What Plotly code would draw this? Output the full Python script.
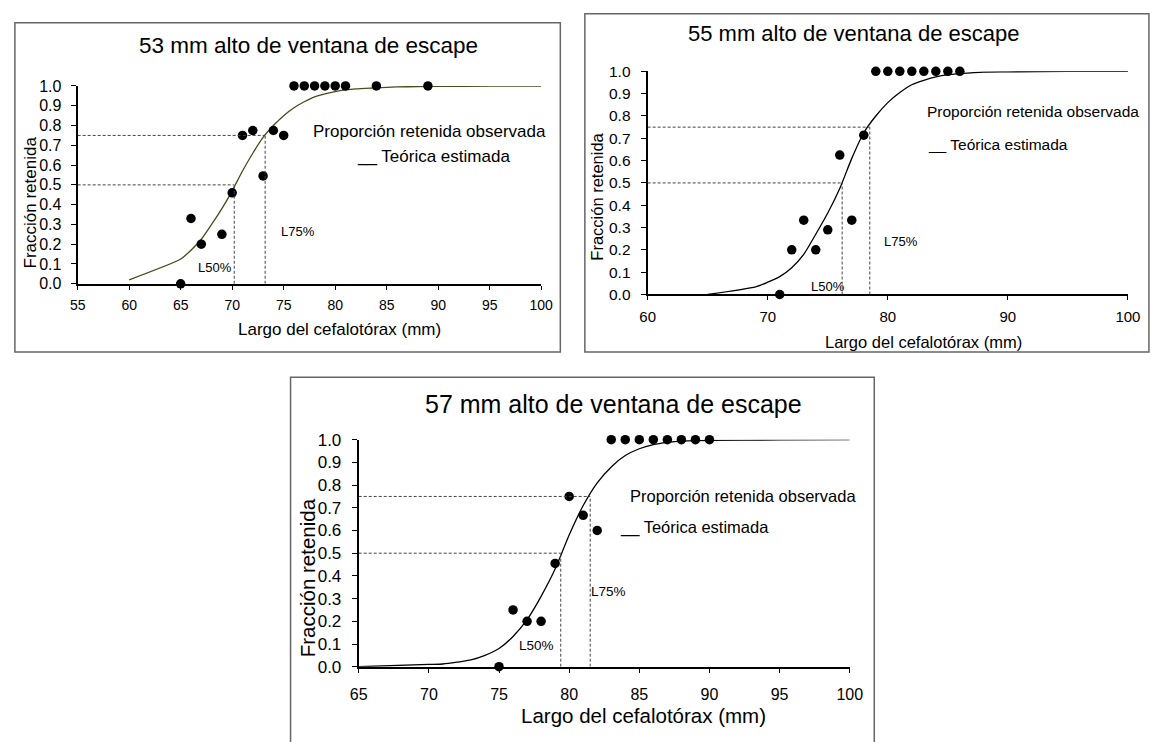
import plotly.graph_objects as go

W, H = 1159, 742

# ---------------- data ----------------
# Chart 1: 53 mm
obs1_x = [65, 66, 67, 69, 70, 71, 72, 73, 74, 75, 76, 77, 78, 79, 80, 81, 84, 89]
obs1_y = [0.0, 0.33, 0.2, 0.25, 0.46, 0.75, 0.775, 0.545, 0.775, 0.75, 1, 1, 1, 1, 1, 1, 1, 1]
fit1_x = [60, 65, 66, 67, 68, 69, 70, 71, 72, 73, 74, 75, 76, 77, 78, 79, 80, 81, 82, 84, 86, 88, 90, 95, 100]
fit1_y = [0.02, 0.125, 0.17, 0.225, 0.30, 0.38, 0.47, 0.57, 0.66, 0.74, 0.80, 0.85, 0.89, 0.92, 0.945,
          0.96, 0.972, 0.98, 0.985, 0.99, 0.995, 0.997, 0.998, 0.999, 1.0]
L50_1, L75_1 = 70.2, 73.2

# Chart 2: 55 mm
obs2_x = [71, 72, 73, 74, 75, 76, 77, 78, 79, 80, 81, 82, 83, 84, 85, 86]
obs2_y = [0.0, 0.2, 0.333, 0.2, 0.29, 0.625, 0.333, 0.714, 1, 1, 1, 1, 1, 1, 1, 1]
fit2_x = [65, 69, 70, 71, 72, 73, 74, 75, 76, 77, 78, 79, 80, 81, 82, 83, 84, 85, 86, 88, 90, 95, 100]
fit2_y = [0.0, 0.034, 0.055, 0.08, 0.12, 0.18, 0.27, 0.365, 0.475, 0.61, 0.725, 0.80, 0.86, 0.905, 0.94,
          0.96, 0.975, 0.985, 0.99, 0.997, 0.998, 1.0, 1.0]
L50_2, L75_2 = 76.2, 78.5

# Chart 3: 57 mm
obs3_x = [75, 76, 77, 78, 79, 80, 81, 82, 83, 84, 85, 86, 87, 88, 89, 90]
obs3_y = [0.0, 0.25, 0.2, 0.2, 0.455, 0.75, 0.667, 0.6, 1, 1, 1, 1, 1, 1, 1, 1]
fit3_x = [65, 70, 71, 72, 73, 74, 75, 76, 77, 78, 79, 80, 81, 82, 83, 84, 85, 86, 87, 88, 90, 95, 100]
fit3_y = [0.0, 0.01, 0.012, 0.02, 0.03, 0.05, 0.08, 0.133, 0.207, 0.31, 0.43, 0.58, 0.71, 0.81, 0.88,
          0.93, 0.96, 0.978, 0.988, 0.994, 0.997, 0.999, 1.0]
L50_3, L75_3 = 79.4, 81.5

titles = ["53 mm alto de ventana de escape", "55 mm alto de ventana de escape",
          "57 mm alto de ventana de escape"]
xlabel = "Largo del cefalotórax (mm)"
ylabel = "Fracción retenida"
leg_obs = "Proporción retenida observada"
leg_fit = "__ Teórica estimada"

FONT = "Liberation Sans, Arial, sans-serif"


def px(x):
    return x / W


def py(y):
    return 1 - y / H


# layout per panel (pixels)
panels = [
    dict(ax="", xr=[55, 100], dtick=5, dom_x=(70, 542.5), dom_y=(282, 79),
         ox=obs1_x, oy=obs1_y, fx=fit1_x, fy=fit1_y, l50=L50_1, l75=L75_1,
         fitcolor="#4a4a1c", title=titles[0], tpos=(305, 37), tsize=22.5,
         xt=(337, 329), yt=(22, 199), atsize=17, xtick=14, ytick=16, xso=3, yso=6,
         leg1=(89.2, 0.768), leg2=(81.9, 0.645), legsize=17,
         l50lab=(68.3, 0.08), l75lab=(76.4, 0.264), lsize=13,
         box=(6, 14, 562, 352)),
    dict(ax="2", xr=[60, 100], dtick=10, dom_x=(651, 1140.6), dom_y=(293, 64),
         ox=obs2_x, oy=obs2_y, fx=fit2_x, fy=fit2_y, l50=L50_2, l75=L75_2,
         fitcolor="#000000", title=titles[1], tpos=(861, 25), tsize=22,
         xt=(932, 342), yt=(599, 193), atsize=16.5, xtick=15, ytick=15.5, xso=4, yso=7,
         leg1=(92.1, 0.822), leg2=(83.2, 0.67), legsize=15.5,
         l50lab=(75.0, 0.034), l75lab=(81.1, 0.238), lsize=13,
         box=(587, 5, 1162, 352)),
    dict(ax="3", xr=[65, 100], dtick=5, dom_x=(356.5, 857), dom_y=(675, 442),
         ox=obs3_x, oy=obs3_y, fx=fit3_x, fy=fit3_y, l50=L50_3, l75=L75_3,
         fitcolor="#000000", title=titles[2], tpos=(616, 405), tsize=25,
         xt=(647, 725), yt=(304, 584), atsize=20.5, xtick=16, ytick=17, xso=8, yso=7,
         leg1=(92.4, 0.75), leg2=(83.5, 0.614), legsize=16.5,
         l50lab=(77.7, 0.093), l75lab=(82.8, 0.33), lsize=13.5,
         box=(287, 378, 882, 760)),
]

fig = go.Figure()
shapes = []
annotations = []
layout_axes = {}

for p in panels:
    a = p["ax"]
    xref, yref = "x" + a, "y" + a
    # fitted curve
    fig.add_trace(go.Scatter(x=p["fx"], y=p["fy"], mode="lines",
                             line=dict(color=p["fitcolor"], width=1.3, shape="spline", smoothing=0.6),
                             xaxis=xref, yaxis=yref, showlegend=False, cliponaxis=False,
                             hoverinfo="skip"))
    # observed
    fig.add_trace(go.Scatter(x=p["ox"], y=p["oy"], mode="markers",
                             marker=dict(color="black", size=9.5),
                             xaxis=xref, yaxis=yref, showlegend=False, cliponaxis=False))
    x0 = p["xr"][0]
    dash = dict(color="#444444", width=1, dash="3px,2px")
    for lv, yv in ((p["l50"], 0.5), (p["l75"], 0.75)):
        shapes.append(dict(type="line", xref=xref, yref=yref, x0=x0, x1=lv, y0=yv, y1=yv, line=dash))
        shapes.append(dict(type="line", xref=xref, yref=yref, x0=lv, x1=lv, y0=0, y1=yv, line=dash))
    # frame
    bx0, by0, bx1, by1 = p["box"]
    shapes.append(dict(type="rect", xref="paper", yref="paper", x0=px(bx0), x1=px(bx1),
                       y0=py(by1), y1=py(by0), line=dict(color="#666666", width=1.5),
                       fillcolor="rgba(0,0,0,0)", layer="below"))
    # texts
    annotations.append(dict(text=p["title"], xref="paper", yref="paper", x=px(p["tpos"][0]),
                            y=py(p["tpos"][1]), showarrow=False, xanchor="center", yanchor="middle",
                            font=dict(size=p["tsize"], color="black", family=FONT)))
    annotations.append(dict(text=xlabel, xref="paper", yref="paper", x=px(p["xt"][0]),
                            y=py(p["xt"][1]), showarrow=False, xanchor="center", yanchor="middle",
                            font=dict(size=p["atsize"], color="black", family=FONT)))
    annotations.append(dict(text=ylabel, xref="paper", yref="paper", x=px(p["yt"][0]),
                            y=py(p["yt"][1]), showarrow=False, xanchor="center", yanchor="middle",
                            textangle=-90, font=dict(size=p["atsize"], color="black", family=FONT)))
    annotations.append(dict(text=leg_obs, xref=xref, yref=yref, x=p["leg1"][0], y=p["leg1"][1],
                            showarrow=False, xanchor="center", yanchor="middle",
                            font=dict(size=p["legsize"], color="black", family=FONT)))
    annotations.append(dict(text=leg_fit, xref=xref, yref=yref, x=p["leg2"][0], y=p["leg2"][1],
                            showarrow=False, xanchor="left", yanchor="middle",
                            font=dict(size=p["legsize"], color="black", family=FONT)))
    annotations.append(dict(text="L50%", xref=xref, yref=yref, x=p["l50lab"][0], y=p["l50lab"][1],
                            showarrow=False, xanchor="center", yanchor="middle",
                            font=dict(size=p["lsize"], color="black", family=FONT)))
    annotations.append(dict(text="L75%", xref=xref, yref=yref, x=p["l75lab"][0], y=p["l75lab"][1],
                            showarrow=False, xanchor="center", yanchor="middle",
                            font=dict(size=p["lsize"], color="black", family=FONT)))

    layout_axes["xaxis" + a] = dict(
        domain=[px(p["dom_x"][0]), px(p["dom_x"][1])], range=p["xr"], tick0=p["xr"][0],
        dtick=p["dtick"], showline=True, linecolor="black", linewidth=2, ticks="outside",
        ticklen=4, tickcolor="black", tickwidth=1, showgrid=False, zeroline=False,
        anchor=yref, tickfont=dict(size=p["xtick"], color="black", family=FONT),
        ticklabelstandoff=p["xso"], fixedrange=True)
    layout_axes["yaxis" + a] = dict(
        domain=[py(p["dom_y"][0]), py(p["dom_y"][1])], range=[0, 1], tick0=0, dtick=0.1,
        tickformat=".1f", showline=True, linecolor="black", linewidth=2, ticks="outside",
        ticklen=5, tickcolor="black", tickwidth=1, showgrid=False, zeroline=False,
        anchor=xref, tickfont=dict(size=p["ytick"], color="black", family=FONT),
        ticklabelstandoff=p["yso"], fixedrange=True)

fig.update_layout(width=W, height=H, autosize=False, margin=dict(l=0, r=0, t=0, b=0),
                  paper_bgcolor="white", plot_bgcolor="white", showlegend=False,
                  shapes=shapes, annotations=annotations, **layout_axes)

fig.write_html("out.html", config={"displayModeBar": False},
               post_script="document.body.style.margin='0';document.body.style.overflow='hidden';")
